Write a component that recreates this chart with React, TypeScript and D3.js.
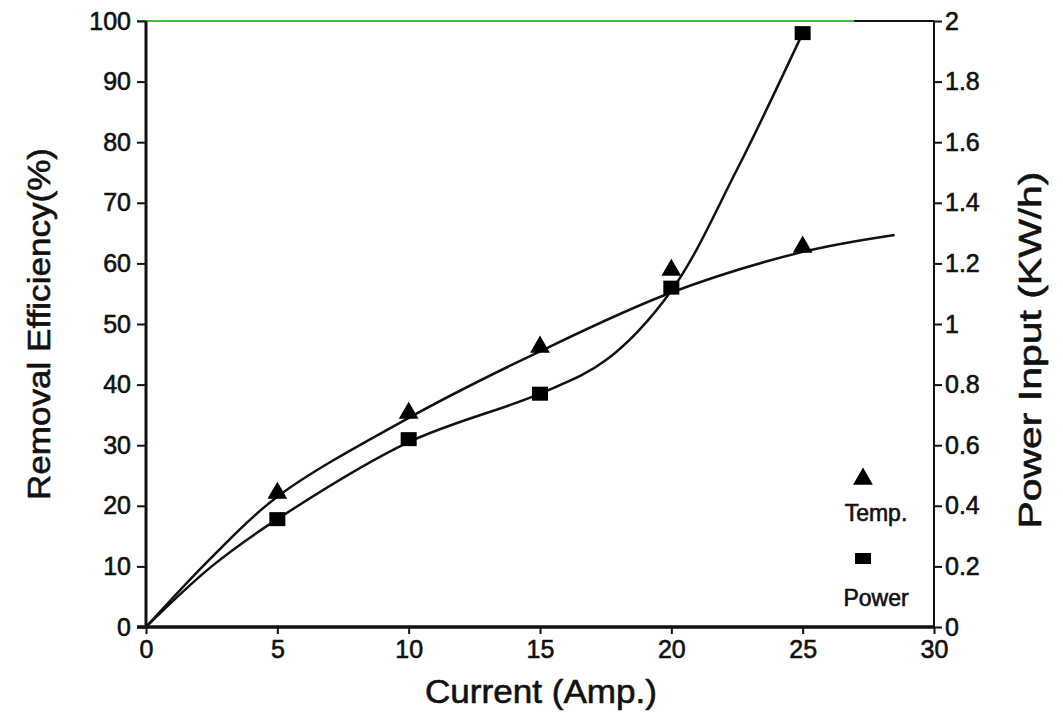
import React, { useRef, useEffect } from "react"
import * as d3 from "d3"

// values
const currents = [5, 10, 15, 20, 25]
const tempPoints = [22.1, 35.3, 46.2, 58.9, 62.7] // removal efficiency (%)
const powerPoints = [0.356, 0.62, 0.77, 1.12, 1.96] // KW/h

// fitted curves as drawn in the figure
const tempCurveX = [0, 2.5, 5, 10, 15, 20, 25, 28.5]
const tempCurveY = [0, 11.5, 21.5, 34.5, 45.5, 55.2, 61.9, 64.7]
const powerCurveX = [0, 2.5, 5, 10, 15, 17.5, 20, 22.5, 25]
const powerCurveY = [0, 0.2, 0.356, 0.61, 0.77, 0.88, 1.11, 1.51, 1.96]

const xTicks = [0, 5, 10, 15, 20, 25, 30]
const leftTicks = [0, 10, 20, 30, 40, 50, 60, 70, 80, 90, 100]
const rightTicks = [0, 0.2, 0.4, 0.6, 0.8, 1, 1.2, 1.4, 1.6, 1.8, 2]
const rightTickLabels = ["0", "0.2", "0.4", "0.6", "0.8", "1", "1.2", "1.4", "1.6", "1.8", "2"]

const FONT = "'Liberation Sans', Arial, sans-serif"

function Chart() {
    const svgRef = useRef<SVGSVGElement>(null)

    useEffect(() => {
        const width = 1063
        const height = 715
        const left = 146, right = 934, top = 21, bottom = 627

        const svg = d3.select(svgRef.current)
            .attr("width", width)
            .attr("height", height)
        svg.selectAll("*").remove()

        const x = d3.scaleLinear().domain([0, 30]).range([left, right])
        const yL = d3.scaleLinear().domain([0, 100]).range([bottom, top])
        const yR = d3.scaleLinear().domain([0, 2]).range([bottom, top])

        // text style shared by every label (scan looks heavy)
        const styleText = (sel: any, size: number) => sel
            .attr("font-family", FONT).attr("font-size", size)
            .attr("fill", "#111").attr("stroke", "#111").attr("stroke-width", 0.6)

        // top frame line (green in the scan, dark at the right end)
        svg.append("line")
            .attr("x1", left - 9).attr("x2", right - 80)
            .attr("y1", top).attr("y2", top)
            .attr("stroke", "#3cbf3c").attr("stroke-width", 2)
        svg.append("line")
            .attr("x1", right - 80).attr("x2", right)
            .attr("y1", top).attr("y2", top)
            .attr("stroke", "#111").attr("stroke-width", 2)

        // left axis
        const yAxisL = d3.axisLeft(yL).tickValues(leftTicks).tickSize(9).tickPadding(6).tickFormat(d3.format("d"))
        const gL = svg.append("g").attr("transform", `translate(${left},0)`).call(yAxisL)
        gL.select(".domain").remove()
        gL.selectAll("line").attr("stroke", "#111").attr("stroke-width", 2)
        styleText(gL.selectAll("text"), 25)
        svg.append("line")
            .attr("x1", left).attr("x2", left).attr("y1", top).attr("y2", bottom)
            .attr("stroke", "#111").attr("stroke-width", 3)

        // right axis
        const yAxisR = d3.axisRight(yR).tickValues(rightTicks).tickSize(8).tickPadding(3)
            .tickFormat((d, i) => rightTickLabels[i])
        const gR = svg.append("g").attr("transform", `translate(${right},0)`).call(yAxisR)
        gR.select(".domain").remove()
        gR.selectAll("line").attr("stroke", "#111").attr("stroke-width", 2)
        styleText(gR.selectAll("text"), 25)
        svg.append("line")
            .attr("x1", right).attr("x2", right).attr("y1", top).attr("y2", bottom)
            .attr("stroke", "#111").attr("stroke-width", 2)

        // bottom axis
        const xAxis = d3.axisBottom(x).tickValues(xTicks).tickSize(7).tickPadding(6).tickFormat(d3.format("d"))
        const gB = svg.append("g").attr("transform", `translate(0,${bottom})`).call(xAxis)
        gB.select(".domain").remove()
        gB.selectAll("line").attr("stroke", "#111").attr("stroke-width", 2)
        styleText(gB.selectAll("text"), 25)
        svg.append("line")
            .attr("x1", left - 9).attr("x2", right).attr("y1", bottom).attr("y2", bottom)
            .attr("stroke", "#111").attr("stroke-width", 3.5)

        // curves
        const tempLine = d3.line<number>()
            .x((d, i) => x(tempCurveX[i]))
            .y(d => yL(d))
            .curve(d3.curveCatmullRom.alpha(0.5))
        svg.append("path")
            .attr("d", tempLine(tempCurveY))
            .attr("fill", "none").attr("stroke", "#111").attr("stroke-width", 2.5)

        const powerLine = d3.line<number>()
            .x((d, i) => x(powerCurveX[i]))
            .y(d => yR(d))
            .curve(d3.curveCatmullRom.alpha(0.5))
        svg.append("path")
            .attr("d", powerLine(powerCurveY))
            .attr("fill", "none").attr("stroke", "#111").attr("stroke-width", 2.5)

        // markers
        const tri = d3.symbol().type(d3.symbolTriangle).size(170)
        svg.selectAll(".tri")
            .data(tempPoints)
            .join("path")
            .attr("class", "tri")
            .attr("d", tri())
            .attr("transform", (d, i) => `translate(${x(currents[i])},${yL(d)})`)
            .attr("fill", "#000")

        svg.selectAll(".sq")
            .data(powerPoints)
            .join("rect")
            .attr("class", "sq")
            .attr("x", (d, i) => x(currents[i]) - 8)
            .attr("y", d => yR(d) - 7)
            .attr("width", 16).attr("height", 14)
            .attr("fill", "#000")

        // legend
        svg.append("path")
            .attr("d", tri())
            .attr("transform", "translate(863,479)")
            .attr("fill", "#000")
        styleText(svg.append("text")
            .attr("x", 876).attr("y", 521)
            .attr("text-anchor", "middle"), 23)
            .text("Temp.")
        svg.append("rect")
            .attr("x", 855).attr("y", 553).attr("width", 16).attr("height", 11)
            .attr("fill", "#000")
        styleText(svg.append("text")
            .attr("x", 876).attr("y", 606)
            .attr("text-anchor", "middle"), 23)
            .text("Power")

        // axis titles
        styleText(svg.append("text")
            .attr("x", 541).attr("y", 703)
            .attr("text-anchor", "middle")
            .attr("textLength", 232).attr("lengthAdjust", "spacingAndGlyphs"), 33)
            .text("Current (Amp.)")

        styleText(svg.append("text")
            .attr("transform", "translate(50,324) rotate(-90)")
            .attr("text-anchor", "middle")
            .attr("textLength", 352).attr("lengthAdjust", "spacingAndGlyphs"), 32)
            .text("Removal Efficiency(%)")

        styleText(svg.append("text")
            .attr("transform", "translate(1041,350) rotate(-90)")
            .attr("text-anchor", "middle")
            .attr("textLength", 357).attr("lengthAdjust", "spacingAndGlyphs"), 32)
            .text("Power Input (KW/h)")
    }, [])

    return <svg ref={svgRef} style={{ position: "absolute", left: 0, top: 0, background: "#fff" }}></svg>
}

export default function App() {
    return <Chart />
}
